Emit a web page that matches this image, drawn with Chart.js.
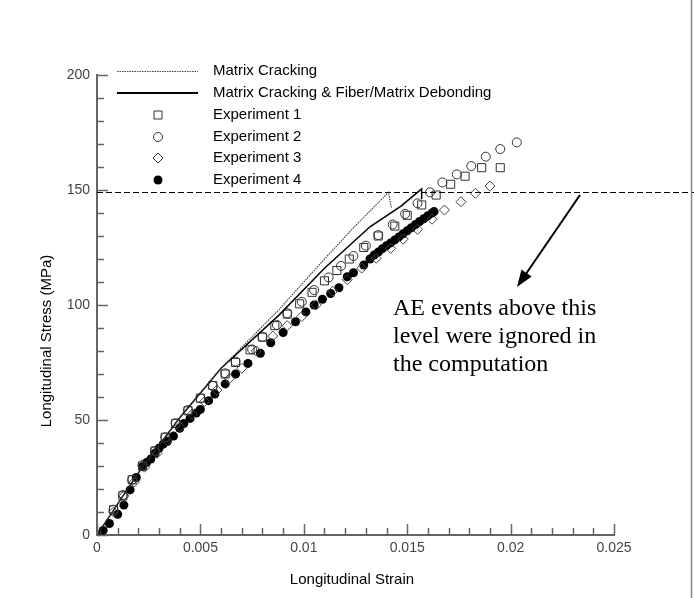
<!DOCTYPE html>
<html>
<head>
<meta charset="utf-8">
<script src="https://cdn.jsdelivr.net/npm/chart.js@4.4.1/dist/chart.umd.min.js"></script>
<style>
  html, body { margin: 0; padding: 0; background: #fff; }
  #stress-chart { display: block; }
</style>
</head>
<body>
<canvas id="stress-chart" width="694" height="598"></canvas>
<script>
// Curvas de modelo
const crackingStrain = [0, 0.002, 0.004, 0.006, 0.0088, 0.011, 0.0125, 0.0141, 0.01424];
const crackingStress = [0, 27, 51, 72.5, 98, 120, 134.5, 149, 142];

const debondStrain = [0, 0.002, 0.004, 0.006, 0.0088, 0.011, 0.0132, 0.0147, 0.0157, 0.0157];
const debondStress = [0, 27, 51, 72.5, 95.6, 116, 134, 143, 150.5, 146];

// Experimentos
const exp1Strain = [0, 0.0008, 0.00125, 0.0017, 0.0022, 0.0028, 0.0033, 0.0038, 0.0044, 0.005, 0.0056, 0.0062, 0.0067, 0.0074, 0.008, 0.0086, 0.0092, 0.0098, 0.0104, 0.011, 0.0116, 0.0122, 0.0129, 0.0136, 0.0144, 0.015, 0.0157, 0.0164, 0.0171, 0.0178, 0.0186, 0.0195];
const exp1Stress = [0, 11, 17, 24, 30, 36.5, 42.5, 48.5, 54, 59.5, 65, 70, 75, 80.5, 86, 91, 96, 100.5, 105.5, 110.5, 115, 120, 125, 130, 134.3, 139, 143.5, 147.8, 152.5, 156, 159.7, 159.7];

const exp2Strain = [0, 0.0008, 0.00125, 0.0017, 0.0022, 0.0028, 0.0033, 0.0038, 0.0044, 0.005, 0.0056, 0.0062, 0.0067, 0.0075, 0.008, 0.0087, 0.0092, 0.0099, 0.0105, 0.0112, 0.0118, 0.0124, 0.013, 0.0136, 0.0143, 0.0149, 0.0155, 0.0161, 0.0167, 0.0174, 0.0181, 0.0188, 0.0195, 0.0203];
const exp2Stress = [0, 11, 17.4, 24, 30.4, 36.5, 42.5, 48.6, 54.3, 59.4, 64.8, 70.3, 75.4, 80.7, 86.2, 91.3, 96.4, 101.4, 106.5, 112, 117, 121.3, 125.8, 130.4, 135, 139.6, 144.2, 149, 153.3, 156.8, 160.4, 164.5, 167.8, 170.7];

const exp3Strain = [0, 0.0008, 0.0013, 0.0018, 0.0023, 0.0029, 0.0034, 0.004, 0.0046, 0.0052, 0.0058, 0.0064, 0.007, 0.0077, 0.0085, 0.0092, 0.0099, 0.0106, 0.0114, 0.0121, 0.0128, 0.0135, 0.0142, 0.0148, 0.0155, 0.0162, 0.0168, 0.0176, 0.0183, 0.019];
const exp3Stress = [0, 10, 17, 23, 29.5, 35.5, 41, 47, 52.5, 58, 63, 68, 72.5, 80, 86.5, 91, 95, 100, 106, 111, 116, 120.3, 124.6, 128.6, 132.9, 137.3, 141.3, 144.9, 148.6, 151.7];

const exp4Strain = [0, 0.0003, 0.0006, 0.001, 0.0013, 0.0016, 0.0019, 0.0022, 0.0024, 0.0026, 0.0028, 0.003, 0.0032, 0.0034, 0.0037, 0.004, 0.0042, 0.0045, 0.0048, 0.005, 0.0054, 0.0057, 0.0062, 0.0067, 0.0073, 0.0079, 0.0084, 0.009, 0.0096, 0.0101, 0.0105, 0.0109, 0.0113, 0.0117, 0.0121, 0.0124, 0.0129, 0.0132, 0.0134, 0.0136, 0.0138, 0.014, 0.0142, 0.0144, 0.0146, 0.0148, 0.015, 0.0152, 0.0154, 0.0156, 0.0158, 0.016, 0.0162, 0.0163];
const exp4Stress = [0, 2, 5, 9, 13, 19.6, 25, 29.7, 31.5, 33, 35.5, 37.7, 39.5, 40.6, 43, 46.4, 48.5, 50.7, 53, 54.6, 58.4, 61.3, 65.7, 70, 74.6, 79, 83.6, 88, 92.7, 97, 100, 102.5, 105, 107.5, 112.3, 114, 117.4, 120, 121.7, 123, 124.5, 125.8, 127, 128.3, 129.6, 131, 132.3, 133.6, 135, 136.3, 137.5, 138.8, 140, 140.6];

// Ejes
const xTicks = [0, 0.005, 0.01, 0.015, 0.02, 0.025];
const yTicks = [0, 50, 100, 150, 200];
const ignoreLevel = 149;

const legendLabels = ['Matrix Cracking', 'Matrix Cracking & Fiber/Matrix Debonding', 'Experiment 1', 'Experiment 2', 'Experiment 3', 'Experiment 4'];
const noteLines = ['AE events above this', 'level were ignored in', 'the computation'];

function toPoints(xs, ys) {
    return xs.map((x, i) => ({ x: x, y: ys[i] }));
}

function drawMarker(ctx, style, x, y) {
    ctx.save();
    ctx.lineWidth = 1;
    ctx.strokeStyle = '#333';
    ctx.fillStyle = '#000';
    ctx.beginPath();
    if (style === 'rect') {
        ctx.rect(x - 4, y - 4, 8, 8);
        ctx.stroke();
    } else if (style === 'circle') {
        ctx.arc(x, y, 4.5, 0, Math.PI * 2);
        ctx.stroke();
    } else if (style === 'rectRot') {
        ctx.moveTo(x, y - 5); ctx.lineTo(x + 5, y); ctx.lineTo(x, y + 5); ctx.lineTo(x - 5, y); ctx.closePath();
        ctx.stroke();
    } else {
        ctx.arc(x, y, 4.5, 0, Math.PI * 2);
        ctx.fill();
    }
    ctx.restore();
}

const extras = {
    id: 'extras',
    afterDraw(chart) {
        const ctx = chart.ctx;
        const xs = chart.scales.x;
        const ys = chart.scales.y;
        ctx.save();

        // ticks hacia adentro
        ctx.strokeStyle = '#666';
        ctx.lineWidth = 1.5;
        ctx.beginPath();
        for (let v = 0; v <= 200; v += 10) {
            const py = Math.round(ys.getPixelForValue(v)) + 0.5;
            const len = v % 50 === 0 ? 11 : 7;
            ctx.moveTo(xs.left, py);
            ctx.lineTo(xs.left + len, py);
        }
        for (let i = 0; i <= 25; i++) {
            const px = Math.round(xs.getPixelForValue(i / 1000)) + 0.5;
            const len = i % 5 === 0 ? 11 : 7;
            ctx.moveTo(px, ys.bottom);
            ctx.lineTo(px, ys.bottom - len);
        }
        ctx.stroke();

        // linea punteada del nivel
        const ly = Math.round(ys.getPixelForValue(ignoreLevel)) + 0.5;
        ctx.strokeStyle = '#000';
        ctx.lineWidth = 1;
        ctx.setLineDash([6, 3]);
        ctx.beginPath();
        ctx.moveTo(xs.left, ly);
        ctx.lineTo(chart.width, ly);
        ctx.stroke();
        ctx.setLineDash([]);

        // borde derecho
        ctx.strokeStyle = '#888';
        ctx.lineWidth = 1.5;
        ctx.beginPath();
        ctx.moveTo(691.5, 0);
        ctx.lineTo(691.5, chart.height);
        ctx.stroke();

        // leyenda
        const rowY = [71, 93, 115, 137, 158, 180];
        const styles = ['dotted', 'solid', 'rect', 'circle', 'rectRot', 'filled'];
        ctx.font = '15px "Liberation Sans", Arial, sans-serif';
        ctx.fillStyle = '#000';
        ctx.textBaseline = 'middle';
        ctx.textAlign = 'left';
        legendLabels.forEach((label, i) => {
            const y = rowY[i];
            if (styles[i] === 'dotted') {
                ctx.strokeStyle = '#444';
                ctx.lineWidth = 1.2;
                ctx.setLineDash([1.5, 1]);
                ctx.beginPath();
                ctx.moveTo(117, y + 0.5); ctx.lineTo(198, y + 0.5);
                ctx.stroke();
                ctx.setLineDash([]);
            } else if (styles[i] === 'solid') {
                ctx.strokeStyle = '#000';
                ctx.lineWidth = 2;
                ctx.beginPath();
                ctx.moveTo(117, y); ctx.lineTo(198, y);
                ctx.stroke();
            } else {
                drawMarker(ctx, styles[i], 158, y);
            }
            ctx.fillStyle = '#000';
            ctx.fillText(label, 213, y);
        });

        // nota
        ctx.font = '24px "Liberation Serif", "Times New Roman", serif';
        ctx.textBaseline = 'alphabetic';
        noteLines.forEach((line, i) => {
            ctx.fillText(line, 393, 315 + i * 28);
        });

        // flecha
        const x0 = 580, y0 = 195, x1 = 517, y1 = 287;
        const ang = Math.atan2(y1 - y0, x1 - x0);
        ctx.strokeStyle = '#000';
        ctx.lineWidth = 2;
        ctx.beginPath();
        ctx.moveTo(x0, y0);
        ctx.lineTo(x1 - Math.cos(ang) * 10, y1 - Math.sin(ang) * 10);
        ctx.stroke();
        ctx.beginPath();
        ctx.moveTo(x1, y1);
        ctx.lineTo(x1 - Math.cos(ang - 0.35) * 18, y1 - Math.sin(ang - 0.35) * 18);
        ctx.lineTo(x1 - Math.cos(ang + 0.35) * 18, y1 - Math.sin(ang + 0.35) * 18);
        ctx.closePath();
        ctx.fill();

        // titulos de ejes
        ctx.font = '15px "Liberation Sans", Arial, sans-serif';
        ctx.textAlign = 'center';
        ctx.textBaseline = 'middle';
        ctx.fillText('Longitudinal Strain', 352, 580);
        ctx.translate(47, 341);
        ctx.rotate(-Math.PI / 2);
        ctx.fillText('Longitudinal Stress (MPa)', 0, 0);
        ctx.restore();
    }
};

window.stressChart = new Chart(
    document.getElementById('stress-chart'),
    {
        type: 'scatter',
        data: {
            datasets: [
                {
                    label: legendLabels[0],
                    data: toPoints(crackingStrain, crackingStress),
                    showLine: true,
                    borderColor: '#444',
                    borderWidth: 1.2,
                    borderDash: [1.5, 1],
                    pointRadius: 0,
                },
                {
                    label: legendLabels[1],
                    data: toPoints(debondStrain, debondStress),
                    showLine: true,
                    borderColor: '#000',
                    borderWidth: 1.5,
                    pointRadius: 0,
                },
                {
                    label: legendLabels[2],
                    data: toPoints(exp1Strain, exp1Stress),
                    pointStyle: 'rect',
                    pointRadius: 5.7,
                    borderColor: '#333',
                    borderWidth: 1,
                    backgroundColor: 'rgba(0,0,0,0)',
                },
                {
                    label: legendLabels[3],
                    data: toPoints(exp2Strain, exp2Stress),
                    pointStyle: 'circle',
                    pointRadius: 4.5,
                    borderColor: '#333',
                    borderWidth: 1,
                    backgroundColor: 'rgba(0,0,0,0)',
                },
                {
                    label: legendLabels[4],
                    data: toPoints(exp3Strain, exp3Stress),
                    pointStyle: 'rectRot',
                    pointRadius: 5,
                    borderColor: '#444',
                    borderWidth: 1,
                    backgroundColor: 'rgba(0,0,0,0)',
                },
                {
                    label: legendLabels[5],
                    data: toPoints(exp4Strain, exp4Stress),
                    pointStyle: 'circle',
                    pointRadius: 4.5,
                    borderColor: '#000',
                    borderWidth: 0,
                    backgroundColor: '#000',
                },
            ]
        },
        options: {
            responsive: false,
            animation: false,
            layout: {
                padding: { top: 75, right: 80, left: 0, bottom: 0 }
            },
            plugins: {
                legend: { display: false },
                tooltip: { enabled: false },
            },
            scales: {
                x: {
                    type: 'linear',
                    min: 0,
                    max: 0.025,
                    afterFit: (scale) => { scale.height = 63; },
                    afterBuildTicks: (scale) => { scale.ticks = xTicks.map(v => ({ value: v })); },
                    grid: { display: false, drawTicks: false },
                    border: { display: true, color: '#666', width: 2 },
                    ticks: {
                        padding: 5,
                        color: '#444',
                        font: { size: 14, family: '"Liberation Sans", Arial, sans-serif' },
                        callback: (v) => String(+v.toFixed(3)),
                    }
                },
                y: {
                    min: 0,
                    max: 200,
                    afterFit: (scale) => { scale.width = 97; },
                    afterBuildTicks: (scale) => { scale.ticks = yTicks.map(v => ({ value: v })); },
                    grid: { display: false, drawTicks: false },
                    border: { display: true, color: '#666', width: 2 },
                    ticks: {
                        padding: 7,
                        color: '#444',
                        font: { size: 14, family: '"Liberation Sans", Arial, sans-serif' },
                    }
                }
            }
        },
        plugins: [extras]
    }
);
</script>
</body>
</html>
